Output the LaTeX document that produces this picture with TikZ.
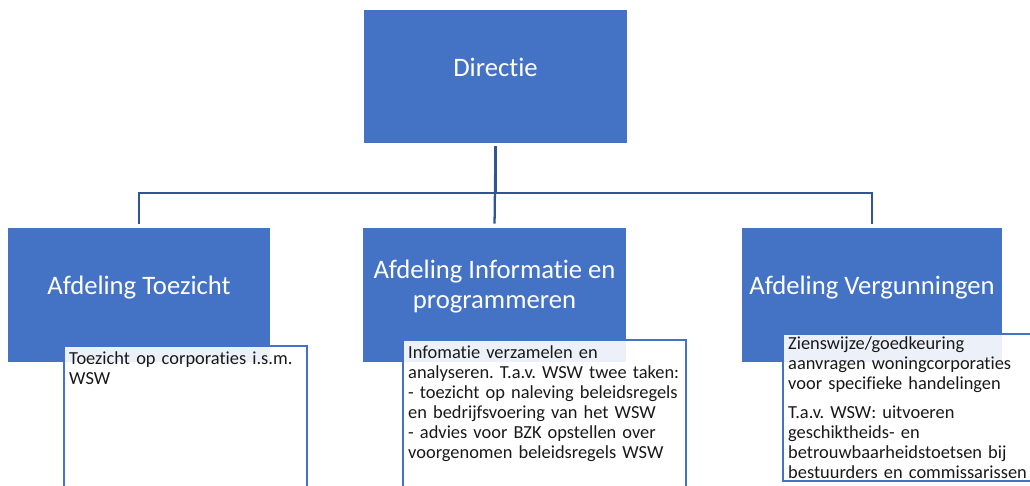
\documentclass[tikz,border=0pt]{standalone}
\usepackage{fontspec}
\setmainfont{Carlito}[RawFeature=-liga]
\usepackage{tikz}
\usetikzlibrary{positioning}
\frenchspacing

\definecolor{unitblue}{HTML}{4472C4}
\definecolor{lineblue}{HTML}{2F5597}

\begin{document}
\begin{tikzpicture}[x=0.75pt,y=-0.75pt,
        unit/.style={draw=none,fill=unitblue,minimum width=197pt,minimum height=100.5pt,inner sep=0pt},
        headtext/.style={text=white,font=\fontsize{20pt}{22.5pt}\selectfont,align=center,inner sep=0pt},
        taskbox/.style={draw=unitblue,line width=1.8pt,fill=white,fill opacity=0.9,text opacity=1,
          anchor=north west,align=left,inner xsep=3.75pt,inner ysep=0pt,
          font=\fontsize{13.8pt}{15pt}\selectfont,text=black!90},
        conn/.style={draw=lineblue,line width=1.7pt,shorten <=2.25pt,shorten >=3pt}]
        \useasboundingbox (0,0) rectangle (1030,485);

        \coordinate (D) at (495.5,76.5);
        \coordinate (T) at (139,295);
        \coordinate (I) at (494.5,295);
        \coordinate (V) at (872,295);

        \node[unit,minimum height=99.75pt,label={[headtext,yshift=6.75pt]center:Directie}] (dir) at (D) {};
        \node[unit,label={[headtext,yshift=5.85pt]center:Afdeling Toezicht}] (tz) at (T) {};
        \node[unit,label={[headtext,yshift=6.4pt]center:Afdeling Informatie en\\programmeren}] (info) at (I) {};
        \node[unit,minimum width=195pt,label={[headtext,yshift=5.85pt]center:Afdeling Vergunningen}] (verg) at (V) {};

        %############################################

        \draw[conn] (dir.south) -- ++(0,50) -| (tz.north);
        \draw[conn] (dir.south) -- (info.north);
        \draw[conn] (dir.south) -- ++(0,50) -| (verg.north);

        %############################################

        \node[taskbox,text width=174.75pt,text height=13.5pt,text depth=102.75pt] (tztask) at (63,345)
          {Toezicht op corporaties i.s.m.\\WSW};
        \node[taskbox,text width=204.75pt,text height=13.5pt,text depth=107.25pt] (infotask) at (402,339)
          {Infomatie verzamelen en\\analyseren. T.a.v. WSW twee taken:\\- toezicht op naleving beleidsregels\\en bedrijfsvoering van het WSW\\- advies voor BZK opstellen over\\voorgenomen beleidsregels WSW};
        \node[taskbox,text width=189.75pt,text height=11.25pt,text depth=99pt] (vergtask) at (782,333)
          {Zienswijze/goedkeuring\\aanvragen woningcorporaties\\voor specifieke handelingen\\[6.75pt]T.a.v. WSW: uitvoeren\\geschiktheids- en\\betrouwbaarheidstoetsen bij\\bestuurders en commissarissen};
    \end{tikzpicture}
\end{document}
